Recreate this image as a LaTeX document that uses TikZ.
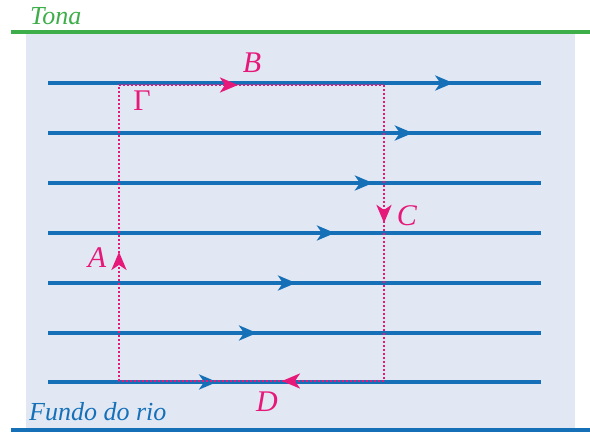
\documentclass[tikz,border=0pt]{standalone}
\usepackage{fontspec}
\setmainfont{Liberation Serif}
\usetikzlibrary{arrows.meta,decorations.markings}

\definecolor{riverbg}{HTML}{E1E8F4}
\definecolor{riverblue}{HTML}{1570B8}
\definecolor{shoregreen}{HTML}{3DAE49}
\definecolor{loopink}{HTML}{E6197A}

\tikzset{
  flowline/.style={riverblue, line width=3.2pt},
  loopline/.style={loopink, line width=2.8pt, dash pattern=on 2pt off 2pt},
  flowtip/.style={postaction={decorate}, decoration={markings,
      mark=at position #1 with {\arrow{Stealth[length=18pt,width=15pt,inset=5pt]}}}},
  looptip/.style={postaction={decorate}, decoration={markings,
      mark=at position #1 with {\arrow{Stealth[length=18pt,width=15pt,inset=5pt]}}}},
  lbl/.style={loopink, inner sep=0pt, font=\fontsize{30}{32}\selectfont\itshape},
}

\begin{document}
\begin{tikzpicture}[x=1pt, y=-1pt, font=\fontsize{26}{28}\selectfont\itshape]
\useasboundingbox (0,0) rectangle (590,433);
% water
\fill[riverbg] (26,34) rectangle (575,428);
% surface
\coordinate (sl) at (11,32);
\coordinate (sr) at (590,32);
\draw[shoregreen, line width=3.2pt] (sl) -- (sr);
\node[shoregreen, inner sep=0pt, anchor=base west] (tona) at (30,25) {Tona};
% river bed
\coordinate (bl) at (11,430);
\coordinate (br) at (590,430);
\draw[riverblue, line width=3.2pt] (bl) -- (br);
\node[riverblue, inner sep=0pt, anchor=base west] (fundo) at (29,420) {Fundo do rio};
% streamlines (slower towards the bed)
\foreach \i/\y/\t in {1/83/0.822, 2/133/0.740, 3/183/0.659, 4/233/0.582,
                      5/283/0.503, 6/333/0.424, 7/382/0.343} {
  \coordinate (l\i) at (48,\y);
  \coordinate (r\i) at (541,\y);
  \draw[flowline, flowtip=\t] (l\i) -- (r\i);
}
% contour Gamma
\coordinate (g1) at (119,85);
\coordinate (g2) at (384,85);
\coordinate (g3) at (384,381);
\coordinate (g4) at (119,381);
\draw[loopline, looptip=0.449] (g1) -- (g2);
\draw[loopline, looptip=0.466] (g2) -- (g3);
\draw[loopline, looptip=0.385] (g3) -- (g4);
\draw[loopline, looptip=0.436] (g4) -- (g1);
% labels
\node[lbl] (labB) at (252,63) {B};
\node[lbl] (labC) at (407,216) {C};
\node[lbl] (labA) at (97,258) {A};
\node[lbl] (labD) at (267,402) {D};
\node[lbl, font=\fontsize{30}{32}\selectfont\upshape] (labG) at (142,101) {Γ};
\end{tikzpicture}
\end{document}
